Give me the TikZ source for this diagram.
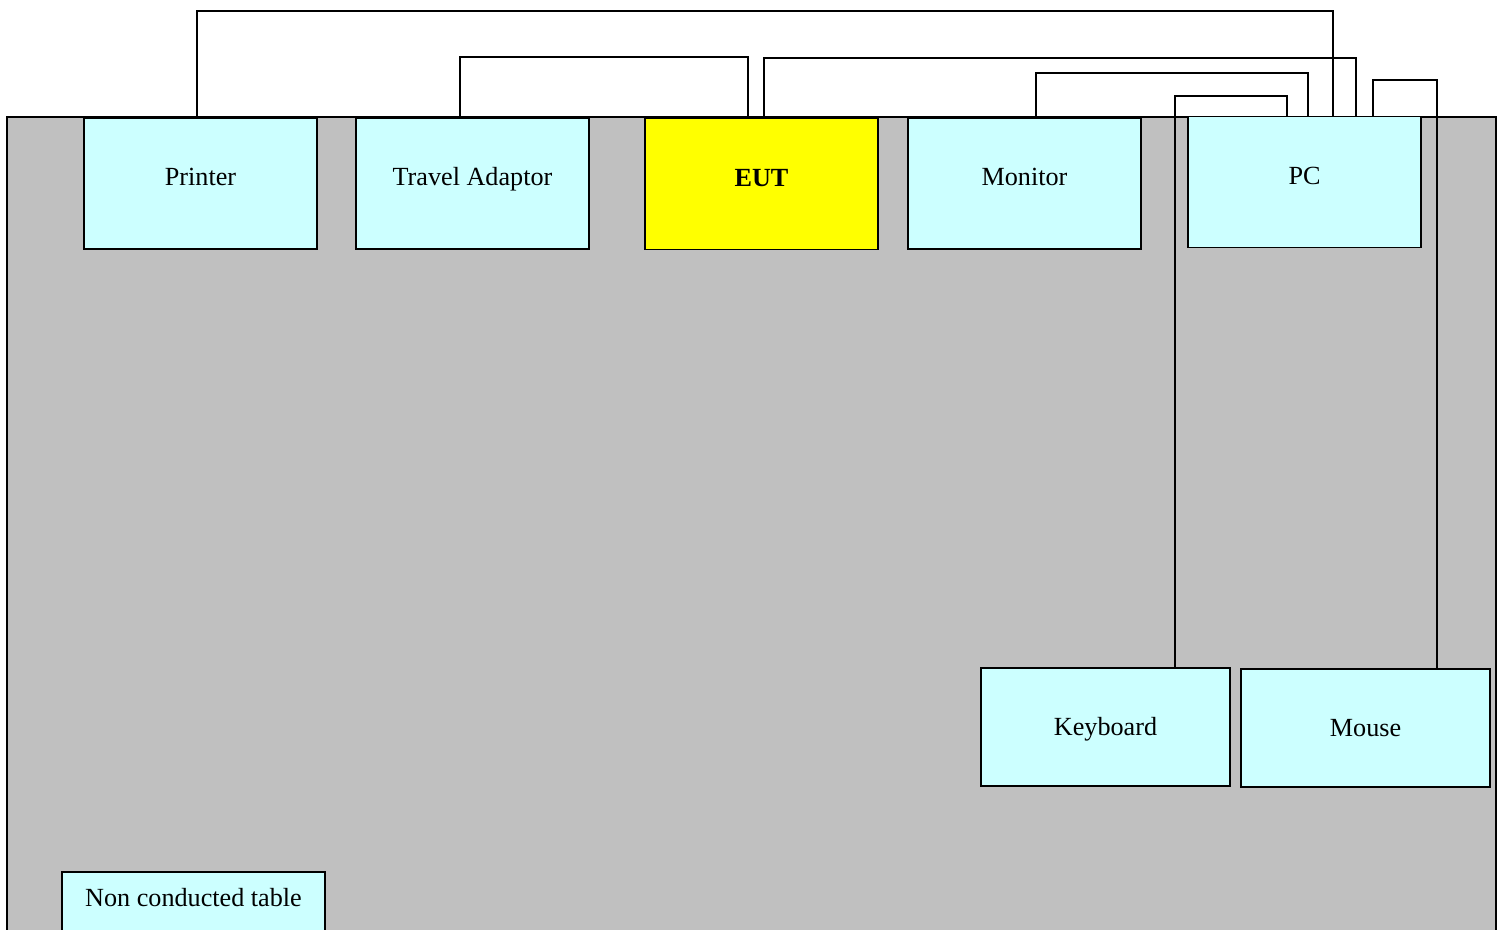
\documentclass[tikz,border=0pt]{standalone}
\usepackage{fontspec}
\setmainfont{Liberation Serif}
\usetikzlibrary{calc}
\definecolor{tablegray}{HTML}{C0C0C0}
\definecolor{devcyan}{HTML}{CCFFFF}
\definecolor{eutyellow}{HTML}{FFFF00}

\begin{document}
\begin{tikzpicture}[x=0.02cm, y=0.02cm, line width=1pt,
    device/.style={draw, fill=devcyan, minimum width=4.66cm, minimum height=2.62cm,
      inner sep=0pt, text height=0.62em, text depth=0.38em, font=\fontsize{14.9}{18}\selectfont},
    lowdevice/.style={device, minimum width=4.98cm, minimum height=2.36cm,
      text height=0.97em, text depth=0em}]
      \useasboundingbox (0,0) rectangle (1503,-929);
      \draw[fill=tablegray] (7,-117) rectangle (1496,-940);

      \node[device] (printer) at (200.5,-183.5) {Printer};
      \node[device] (adaptor) at (472.5,-183.5) {Travel Adaptor};
      \node[device, fill=eutyellow, font=\fontsize{14.9}{18}\selectfont\bfseries] (eut) at (761.5,-184) {EUT};
      \node[device] (monitor) at (1024.5,-183.5) {Monitor};
      \node[device] (pc) at (1304.5,-182) {PC};
      \node[lowdevice] (keyboard) at (1105.5,-727) {Keyboard};
      \node[lowdevice] (mouse) at (1365.5,-728) {Mouse};
      \node[device, anchor=north, minimum width=5.26cm, minimum height=1.2cm,
        text height=0.75em, text depth=0.17em] (table) at (193.5,-871) {Non conducted table};

      \draw ($(printer.north)+(-3.5,0)$) -- ++(0,106) -| ($(pc.north)+(28.5,0)$);
      \draw ($(adaptor.north)+(-12.5,0)$) -- ++(0,60) -| ($(eut.north)+(-13.5,0)$);
      \draw ($(eut.north)+(2.5,0)$) -- ++(0,60) -| ($(pc.north)+(51.5,0)$);
      \draw ($(monitor.north)+(11.5,0)$) -- ++(0,44) -| ($(pc.north)+(3.5,0)$);
      \draw ($(keyboard.north)+(69.5,0)$) -- ++(0,571) -| ($(pc.north)+(-17.5,0)$);
      \draw ($(mouse.north)+(71.5,0)$) -- ++(0,588) -| ($(pc.north)+(68.5,0)$);
    \end{tikzpicture}
\end{document}
